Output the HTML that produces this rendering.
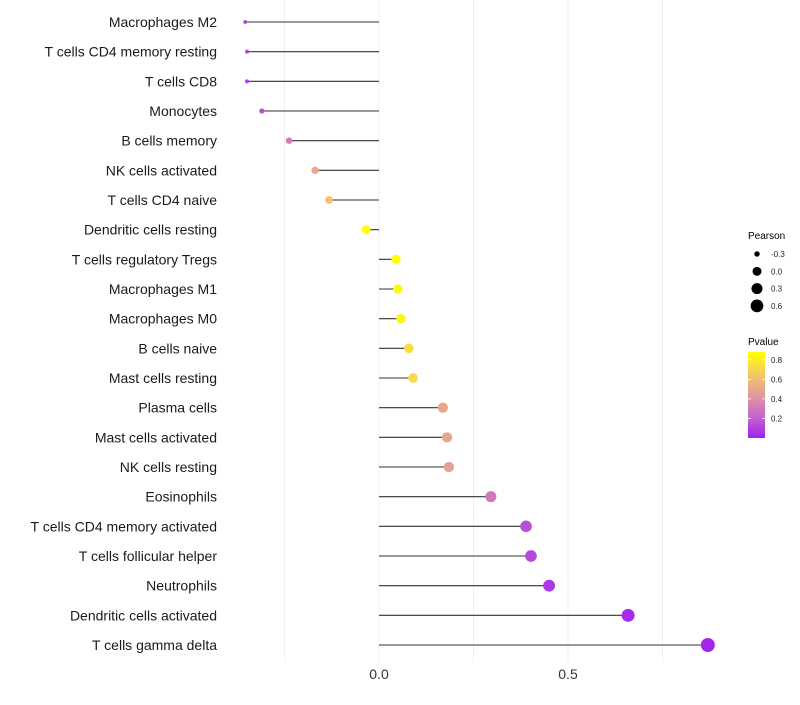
<!DOCTYPE html>
<html><head><meta charset="utf-8"><style>
body{margin:0;background:#fff;font-family:"Liberation Sans",sans-serif}
</style></head><body>
<svg id="chart" width="800" height="700" xmlns="http://www.w3.org/2000/svg"></svg>
<script>
const categories=["Macrophages M2","T cells CD4 memory resting","T cells CD8","Monocytes","B cells memory","NK cells activated","T cells CD4 naive","Dendritic cells resting","T cells regulatory  Tregs ","Macrophages M1","Macrophages M0","B cells naive","Mast cells resting","Plasma cells","Mast cells activated","NK cells resting","Eosinophils","T cells CD4 memory activated","T cells follicular helper","Neutrophils","Dendritic cells activated","T cells gamma delta"];
const pearson=[-0.354,-0.349,-0.349,-0.31,-0.238,-0.169,-0.132,-0.034,0.045,0.05,0.058,0.079,0.09,0.169,0.18,0.185,0.296,0.389,0.402,0.45,0.659,0.87];
const pvalues=[0.1,0.12,0.1,0.15,0.32,0.5,0.62,0.88,0.88,0.86,0.84,0.74,0.72,0.5,0.48,0.47,0.3,0.15,0.13,0.08,0.04,0.02];
const xTicks=[0,0.5];
const xTickLabels=["0.0","0.5"];
const gridVals=[-0.25,0,0.25,0.5,0.75];
const sizeLegendVals=[-0.3,0,0.3,0.6];
const sizeLegendLabels=["-0.3","0.0","0.3","0.6"];
const pTicks=[0.2,0.4,0.6,0.8];

const svg=document.getElementById('chart');
const NS="http://www.w3.org/2000/svg";
const x=v=>379+v*378;
const y=i=>22+i*(623/21);
const r=v=>1.5+5.5*Math.sqrt(Math.max(v+0.36,0)/1.23);
const stops=[[0,[160,32,240]],[0.25,[198,101,204]],[0.5,[225,154,157]],[0.75,[245,203,96]],[1,[255,255,0]]];
const pmin=0,pmax=0.88;
function col(p){let t=(p-pmin)/(pmax-pmin);t=Math.max(0,Math.min(1,t));
 for(let k=1;k<stops.length;k++){if(t<=stops[k][0]){const a=stops[k-1],b=stops[k];const f=(t-a[0])/(b[0]-a[0]);
 const c=a[1].map((v,j)=>Math.round(v+(b[1][j]-v)*f));return `rgb(${c})`;}}return 'rgb(255,255,0)';}
function el(tag,attrs,parent){const e=document.createElementNS(NS,tag);for(const k in attrs)e.setAttribute(k,attrs[k]);(parent||svg).appendChild(e);return e;}

gridVals.forEach(v=>{const g=el('line',{x1:x(v),x2:x(v),y1:0,y2:662,stroke:'#f0f0f0','stroke-width':1});

});

categories.forEach((c,i)=>{
 const t=el('text',{x:217,y:y(i)+5,'text-anchor':'end','font-size':14,fill:'#1a1a1a'});t.textContent=c;
 
 
 const l=el('line',{x1:x(0),x2:x(pearson[i]),y1:y(i),y2:y(i),stroke:'#333','stroke-width':1.1});
 
 
 const p=el('circle',{cx:x(pearson[i]),cy:y(i),r:r(pearson[i]),fill:col(pvalues[i])});
 
 
});
xTicks.forEach((v,i)=>{const t=el('text',{x:x(v),y:679,'text-anchor':'middle','font-size':14,fill:'#333'});t.textContent=xTickLabels[i];
 
 });

const lt=el('text',{x:748,y:239,'font-size':10,fill:'#000'});lt.textContent='Pearson';


sizeLegendVals.forEach((v,i)=>{const cy=254+i*17.3;
 const c=el('circle',{cx:757,cy:cy,r:r(v),fill:'#000'});
 
 
 const t=el('text',{x:771,y:cy+3,'font-size':8,fill:'#222'});t.textContent=sizeLegendLabels[i];
 
 });

const pt=el('text',{x:748,y:345,'font-size':10,fill:'#000'});pt.textContent='Pvalue';


const defs=el('defs',{});const lg=el('linearGradient',{id:'pg',x1:0,y1:1,x2:0,y2:0},defs);
stops.forEach(s=>el('stop',{offset:s[0],'stop-color':`rgb(${s[1]})`},lg));
const bar=el('rect',{x:748,y:352,width:17,height:86,fill:'url(#pg)'});


const py=p=>438-(p-pmin)/(pmax-pmin)*86;
pTicks.forEach(p=>{el('line',{x1:748,x2:751,y1:py(p),y2:py(p),stroke:'#fff','stroke-width':0.8});el('line',{x1:762,x2:765,y1:py(p),y2:py(p),stroke:'#fff','stroke-width':0.8});
 const t=el('text',{x:771,y:py(p)+3,'font-size':8,fill:'#222'});t.textContent=p.toFixed(1);
 
 });
</script>
</body></html>
